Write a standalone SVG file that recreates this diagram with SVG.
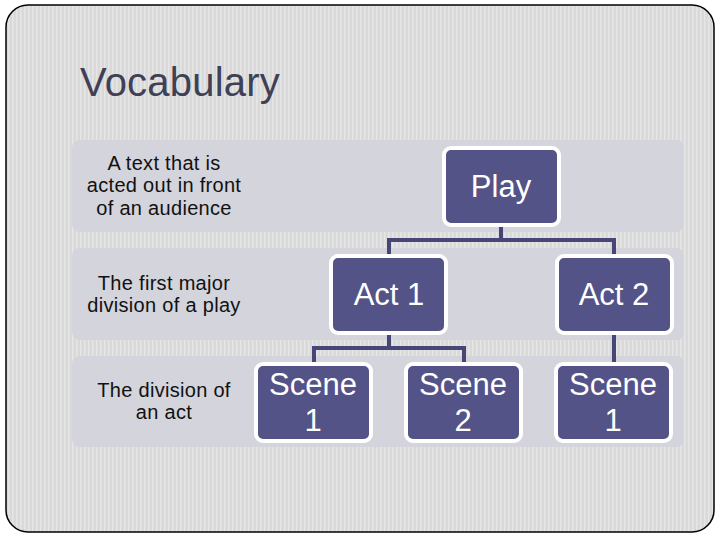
<svg xmlns="http://www.w3.org/2000/svg" width="720" height="540" viewBox="0 0 720 540">
  <defs>
    <pattern id="hatch" width="4" height="10" patternUnits="userSpaceOnUse">
      <rect width="4" height="10" fill="#D9D9D9"/>
      <rect x="0" width="1.5" height="10" fill="#E6E6E6"/>
    </pattern>
  </defs>
  <style>
    .band { fill: #D3D4DC; }
    .node { fill: #545388; stroke: #FFFFFF; stroke-width: 4; }
    .ntext { font-family: "Liberation Sans", Arial, sans-serif; font-size: 31px; fill: #FFFFFF; text-anchor: middle; }
    .ltext { font-family: "Liberation Sans", Arial, sans-serif; font-size: 20px; fill: #111111; text-anchor: middle; letter-spacing: 0.3px; }
    .conn { fill: none; stroke: #464777; stroke-width: 4; }
  </style>
  <rect width="720" height="540" fill="#FFFFFF"/>
  <rect x="6" y="5" width="708" height="527" rx="22" ry="22" fill="url(#hatch)" stroke="#000000" stroke-width="1.5"/>
  <text x="80" y="96" font-family="Liberation Sans, Arial, sans-serif" font-size="40" fill="#404055" letter-spacing="0.2">Vocabulary</text>

  <g id="bands">
    <rect class="band" x="72" y="140" width="612" height="92" rx="8"/>
    <rect class="band" x="72" y="248" width="612" height="92" rx="8"/>
    <rect class="band" x="72" y="356" width="612" height="91" rx="8"/>
  </g>

  <g id="labels">
    <text class="ltext" x="164" y="170">A text that is</text>
    <text class="ltext" x="164" y="192">acted out in front</text>
    <text class="ltext" x="164" y="215">of an audience</text>
    <text class="ltext" x="164" y="290">The first major</text>
    <text class="ltext" x="164" y="312">division of a play</text>
    <text class="ltext" x="164" y="397">The division of</text>
    <text class="ltext" x="164" y="419">an act</text>
  </g>

  <g id="connectors">
    <path class="conn" d="M501 227 V240 M389 254 V240 H614 V254"/>
    <path class="conn" d="M389 334 V348 M314 362 V348 H464 V362"/>
    <path class="conn" d="M614 334 V362"/>
  </g>

  <g id="node-play">
    <rect class="node" x="444" y="148" width="115" height="77" rx="7"/>
    <text class="ntext" x="501" y="197" font-size="32">Play</text>
  </g>
  <g id="node-act1">
    <rect class="node" x="331" y="256" width="115" height="77" rx="7"/>
    <text class="ntext" x="389" y="305">Act 1</text>
  </g>
  <g id="node-act2">
    <rect class="node" x="557" y="256" width="115" height="77" rx="7"/>
    <text class="ntext" x="614" y="305">Act 2</text>
  </g>
  <g id="node-scene1a">
    <rect class="node" x="256" y="364" width="115" height="77" rx="7"/>
    <text class="ntext" x="313" y="395">Scene</text>
    <text class="ntext" x="313" y="431">1</text>
  </g>
  <g id="node-scene2">
    <rect class="node" x="406" y="364" width="115" height="77" rx="7"/>
    <text class="ntext" x="463" y="395">Scene</text>
    <text class="ntext" x="463" y="431">2</text>
  </g>
  <g id="node-scene1b">
    <rect class="node" x="556" y="364" width="115" height="77" rx="7"/>
    <text class="ntext" x="613" y="395">Scene</text>
    <text class="ntext" x="613" y="431">1</text>
  </g>
</svg>
